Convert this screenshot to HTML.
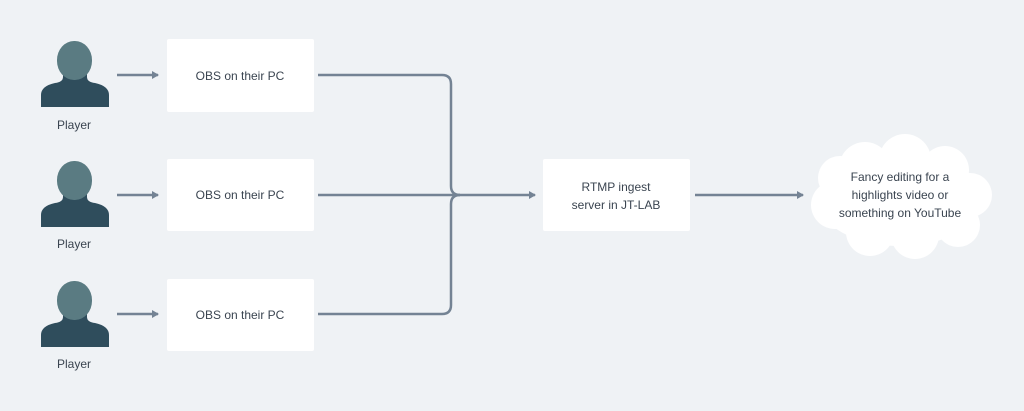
<!DOCTYPE html>
<html><head><style>
html,body{margin:0;padding:0;background:#eff2f5;}
svg{display:block;}
text{font-family:"Liberation Sans",sans-serif;font-size:12px;fill:#3a4450;}
</style></head><body>
<svg width="1024" height="411" viewBox="0 0 1024 411" xmlns="http://www.w3.org/2000/svg">
<rect width="1024" height="411" fill="#eff2f5"/>
<defs>
<g id="person">
  <path d="M63,0 L87,0 L87,12 Q87,17 95,18 Q109,21 109,30 L109,42 L41,42 L41,30 Q41,21 55,18 Q63,17 63,12 Z" fill="#2f4d5c"/>
  <rect x="57" y="-24" width="35" height="39" rx="17" ry="19" fill="#5a7b82"/>
  <path d="M63,12 Q74,19 87,12" fill="none" stroke="#2f4d5c" stroke-width="0"/>
</g>
<marker id="ah" markerWidth="8" markerHeight="8" refX="6" refY="4" orient="auto" markerUnits="userSpaceOnUse">
  <path d="M0,0 L7,4 L0,8 Z" fill="#748394"/>
</marker>
</defs>
<g stroke="#748394" stroke-width="2.5" fill="none">
  <line x1="117" y1="75" x2="158" y2="75" marker-end="url(#ah)"/>
  <line x1="117" y1="195" x2="158" y2="195" marker-end="url(#ah)"/>
  <line x1="117" y1="314" x2="158" y2="314" marker-end="url(#ah)"/>
  <path d="M318,75 L442,75 Q451,75 451,84 L451,186 Q451,195 460,195"/>
  <path d="M318,314 L442,314 Q451,314 451,305 L451,204 Q451,195 460,195"/>
  <line x1="318" y1="195" x2="535" y2="195" marker-end="url(#ah)"/>
  <line x1="695" y1="195" x2="803" y2="195" marker-end="url(#ah)"/>
</g>
<use href="#person" y="65"/>
<use href="#person" y="185"/>
<use href="#person" y="305"/>
<text x="74" y="129" text-anchor="middle">Player</text>
<text x="74" y="248" text-anchor="middle">Player</text>
<text x="74" y="368" text-anchor="middle">Player</text>
<g fill="#ffffff">
  <rect x="167" y="39" width="147" height="73" rx="2"/>
  <rect x="167" y="159" width="147" height="72" rx="2"/>
  <rect x="167" y="279" width="147" height="72" rx="2"/>
  <rect x="543" y="159" width="147" height="72" rx="2"/>
</g>
<text x="240" y="80" text-anchor="middle">OBS on their PC</text>
<text x="240" y="199" text-anchor="middle">OBS on their PC</text>
<text x="240" y="319" text-anchor="middle">OBS on their PC</text>
<text x="616" y="191" text-anchor="middle">RTMP ingest</text>
<text x="616" y="209" text-anchor="middle">server in JT-LAB</text>
<g fill="#ffffff">
  <ellipse cx="900" cy="200" rx="82" ry="46"/>
  <circle cx="865" cy="168" r="26"/>
  <circle cx="905" cy="160" r="26"/>
  <circle cx="945" cy="170" r="24"/>
  <circle cx="970" cy="195" r="22"/>
  <circle cx="958" cy="225" r="22"/>
  <circle cx="915" cy="235" r="24"/>
  <circle cx="870" cy="232" r="24"/>
  <circle cx="835" cy="205" r="24"/>
  <circle cx="840" cy="178" r="22"/>
</g>
<text x="900" y="181" text-anchor="middle">Fancy editing for a</text>
<text x="900" y="199" text-anchor="middle">highlights video or</text>
<text x="900" y="217" text-anchor="middle">something on YouTube</text>
</svg>
</body></html>
